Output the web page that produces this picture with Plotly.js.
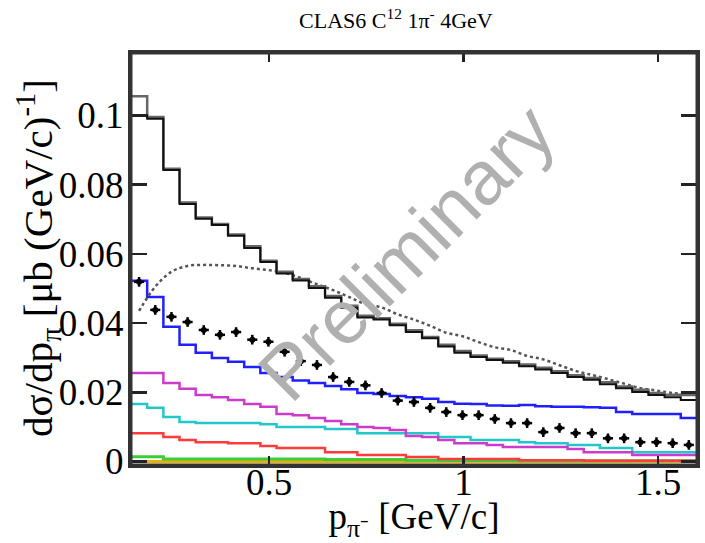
<!DOCTYPE html>
<html><head><meta charset="utf-8">
<script src="https://cdn.plot.ly/plotly-3.0.1.min.js"></script>
<style>html,body{margin:0;padding:0;background:#fff}#c{width:705px;height:543px}</style>
</head><body><div id="c"></div>
<script>
// bin centres of p_pi [GeV/c]
const pBins = [0.1658,0.2074,0.2490,0.2905,0.3321,0.3736,0.4152,0.4568,0.4983,0.5399,
  0.5815,0.6230,0.6646,0.7061,0.7477,0.7893,0.8308,0.8724,0.9140,0.9555,
  0.9971,1.0386,1.0802,1.1218,1.1633,1.2049,1.2465,1.2880,1.3296,1.3711,
  1.4127,1.4543,1.4958,1.5374,1.5790];

const totalBlack = [0.1000,0.0990,0.0842,0.0744,0.0701,0.0683,0.0652,0.0617,0.0576,0.0543,
  0.0523,0.0501,0.0473,0.0444,0.0416,0.0410,0.0394,0.0374,0.0356,0.0332,
  0.0314,0.0302,0.0293,0.0285,0.0275,0.0266,0.0256,0.0244,0.0236,0.0223,
  0.0212,0.0201,0.0192,0.0186,0.0178];
const totalGray = [0.1055,0.0995,0.0846,0.0748,0.0705,0.0686,0.0656,0.0622,0.0580,0.0548,
  0.0527,0.0506,0.0478,0.0450,0.0421,0.0414,0.0398,0.0379,0.0360,0.0337,
  0.0319,0.0306,0.0297,0.0290,0.0280,0.0271,0.0261,0.0249,0.0241,0.0229,
  0.0217,0.0207,0.0198,0.0193,0.0192];
const dottedModel = [0.0435,0.0505,0.0548,0.0565,0.0568,0.0567,0.0565,0.0558,0.0553,0.0545,
  0.0530,0.0512,0.0495,0.0475,0.0455,0.0445,0.0425,0.0410,0.0392,0.0372,
  0.0362,0.0345,0.0330,0.0322,0.0305,0.0295,0.0278,0.0262,0.0250,0.0238,
  0.0225,0.0212,0.0205,0.0198,0.0195];
const dataPts = [0.0519,0.0438,0.0418,0.0403,0.0380,0.0366,0.0374,0.0352,0.0346,0.0317,
  0.0290,0.0279,0.0244,0.0230,0.0220,0.0198,0.0176,0.0172,0.0155,0.0143,
  0.0134,0.0134,0.0123,0.0111,0.0111,0.0085,0.0097,0.0082,0.0082,0.0067,
  0.0067,0.0056,0.0056,0.0053,0.0048];
const blueH = [0.0522,0.0475,0.0389,0.0337,0.0314,0.0299,0.0288,0.0273,0.0256,0.0244,
  0.0234,0.0227,0.0218,0.0209,0.0198,0.0195,0.0189,0.0186,0.0181,0.0172,
  0.0167,0.0166,0.0162,0.0161,0.0163,0.0160,0.0158,0.0158,0.0157,0.0155,
  0.0143,0.0137,0.0137,0.0137,0.0126];
const magentaH = [0.0256,0.0256,0.0227,0.0210,0.0192,0.0186,0.0178,0.0166,0.0158,0.0137,
  0.0134,0.0126,0.0117,0.0108,0.0100,0.0097,0.0091,0.0074,0.0071,0.0062,
  0.0053,0.0053,0.0048,0.0042,0.0042,0.0042,0.0042,0.0036,0.0027,0.0027,
  0.0027,0.0019,0.0019,0.0019,0.0019];
const cyanH = [0.0166,0.0155,0.0129,0.0114,0.0111,0.0111,0.0111,0.0111,0.0108,0.0100,
  0.0100,0.0100,0.0094,0.0094,0.0082,0.0082,0.0082,0.0082,0.0082,0.0071,
  0.0071,0.0062,0.0062,0.0062,0.0056,0.0053,0.0053,0.0048,0.0048,0.0039,
  0.0039,0.0027,0.0027,0.0027,0.0027];
const redH = [0.0082,0.0082,0.0071,0.0062,0.0056,0.0056,0.0053,0.0053,0.0045,0.0039,
  0.0039,0.0039,0.0027,0.0027,0.0019,0.0019,0.0019,0.0013,0.0013,0.0007,
  0.0007,0.0007,0.0007,0.0007,0.0004,0.0004,0.0004,0.0004,0.0002,0.0002,
  0.0002,0.0002,0.0002,0.0002,0.0002];
const greenH = [0.0014,0.0014,0.0007,0.0007,0.0007,0.0007,0.0007,0.0007,0.0007,0.0007,
  0.0007,0.0007,0.0006,0.0006,0.0006,0.0006,0.0006,0.0004,0.0004,0.0003,
  0.0003,0.0003,0.0003,0.0003,0.0002,0.0002,0.0002,0.0002,0.0002,0.0002,
  0.0002,0.0002,0.0002,0.0002,0.0002];
const goldH = [0,0,0,0,0,0,0,0,0,0,0,0,0,0,0,0,0,0,0,0,0,0,0,0,0,0,0,0,0,0,0,0,0,0,0];

const xTickVals = [0.5, 1, 1.5];
const xTickText = ['0.5', '1', '1.5'];
const yTickVals = [0, 0.02, 0.04, 0.06, 0.08, 0.1];
const yTickText = ['0', '0.02', '0.04', '0.06', '0.08', '0.1'];

function stepTrace(vals, color, width) {
  const hw = (pBins[1] - pBins[0]) / 2;
  const x = [pBins[0] - hw].concat(pBins, [pBins[pBins.length - 1] + hw]);
  const y = [vals[0]].concat(vals, [vals[vals.length - 1]]);
  return {x: x, y: y, type: 'scatter', mode: 'lines',
    line: {shape: 'hvh', color: color, width: width}, hoverinfo: 'skip'};
}

const traces = [
  stepTrace(goldH, '#e8b000', 3),
  stepTrace(greenH, '#3ccc3c', 3),
  stepTrace(redH, '#ff3b3b', 2.5),
  stepTrace(cyanH, '#22c8c8', 2.5),
  stepTrace(magentaH, '#cc3ccc', 2.5),
  stepTrace(blueH, '#2020ff', 2.5),
  {x: pBins, y: dottedModel, type: 'scatter', mode: 'lines',
   line: {color: '#555', width: 2.5, dash: 'dot', shape: 'spline'}},
  stepTrace(totalGray, '#666', 2.5),
  stepTrace(totalBlack, '#111', 2),
  {x: pBins, y: dataPts, type: 'scatter', mode: 'markers',
   marker: {color: '#000', size: 6, symbol: 'circle'},
   error_y: {type: 'constant', value: 0.0014, thickness: 2.5, width: 0, color: '#000'},
   error_x: {type: 'constant', value: 0.013, thickness: 2.5, width: 0, color: '#000'}}
];

const serif = 'Liberation Serif, Times New Roman, serif';
const layout = {
  width: 705, height: 543,
  margin: {l: 131, r: 8, t: 53, b: 78},
  paper_bgcolor: '#fff', plot_bgcolor: '#fff',
  showlegend: false,
  title: {text: 'CLAS6 C<sup>12</sup> 1π<sup>-</sup> 4GeV', font: {family: serif, size: 22, color: '#000'},
    x: 0.468, xref: 'paper', xanchor: 'center', y: 0.962, yref: 'container', yanchor: 'middle'},
  xaxis: {range: [0.145, 1.6], tickvals: xTickVals, ticktext: xTickText,
    ticks: 'inside', ticklen: 9, tickwidth: 2.5, tickcolor: '#222',
    showline: true, linecolor: '#333', linewidth: 3, mirror: 'allticks',
    showgrid: false, zeroline: false, ticklabelstandoff: -17,
    tickfont: {family: serif, size: 37, color: '#000'},
    title: {text: 'p<sub>π⁻</sub> [GeV/c]', font: {family: serif, size: 37, color: '#000'}, standoff: 0}},
  yaxis: {range: [-0.001, 0.118], tickvals: yTickVals, ticktext: yTickText,
    ticks: 'inside', ticklen: 16, tickwidth: 2.5, tickcolor: '#222',
    showline: true, linecolor: '#333', linewidth: 3, mirror: 'allticks',
    showgrid: false, zeroline: false, ticklabelstandoff: -3,
    tickfont: {family: serif, size: 37, color: '#000'}},
  shapes: [{type: 'rect', xref: 'paper', yref: 'paper', x0: 0, x1: 1, y0: 0, y1: 1,
    line: {color: '#333', width: 3}, fillcolor: 'rgba(0,0,0,0)', layer: 'above'}],
  annotations: [
    {text: 'Preliminary', xref: 'paper', yref: 'paper',
     x: (406 - 131) / 566, y: (465 - 252) / 412, xanchor: 'center', yanchor: 'middle',
     showarrow: false, textangle: -45,
     font: {family: 'Liberation Sans, Arial, sans-serif', size: 76, color: '#b0b0b0'}},
    {text: 'dσ/dp<sub>π</sub> [μb (GeV/c)<sup>-1</sup>]', xref: 'paper', yref: 'paper',
     x: (38 - 131) / 566, y: (465 - 258) / 412, xanchor: 'center', yanchor: 'middle',
     showarrow: false, textangle: -90,
     font: {family: serif, size: 41, color: '#000'}}]
};

Plotly.newPlot('c', traces, layout, {displayModeBar: false, staticPlot: true});
</script></body></html>
